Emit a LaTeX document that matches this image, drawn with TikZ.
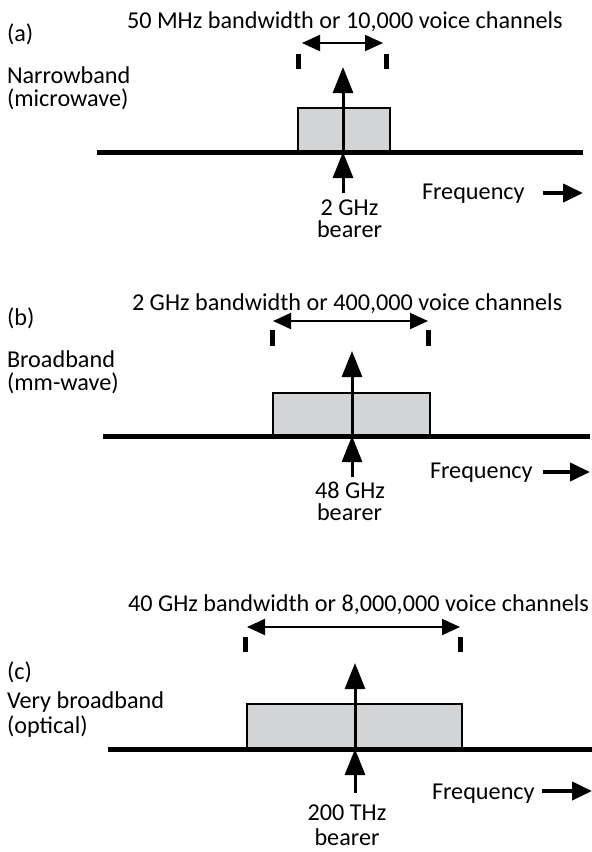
\documentclass[tikz,border=0pt]{standalone}
\usepackage{fontspec}
\setmainfont{Carlito}
\usetikzlibrary{arrows.meta}
\definecolor{bandgray}{RGB}{211,212,214}
\tikzset{
  axisline/.style={line width=5pt},
  bandbox/.style={fill=bandgray, draw=black, line width=2pt},
  bearerarrow/.style={line width=3pt, -{Triangle[length=26pt,width=20pt]}},
  spanarrow/.style={line width=2pt, {Triangle[length=18pt,width=16pt]}-{Triangle[length=18pt,width=16pt]}},
  tickmark/.style={line width=5pt},
  freqarrow/.style={line width=4pt, -{Triangle[length=20pt,width=18pt]}},
  lbl/.style={font=\fontsize{24.2}{29}\selectfont, inner sep=0pt, outer sep=0pt},
}
\begin{document}
\begin{tikzpicture}[x=1pt,y=-1pt]
\useasboundingbox (0,0) rectangle (592,852);

% ---------------- panel (a)
\coordinate (aAL) at (97,152);  \coordinate (aAR) at (583,152);
\coordinate (aB1) at (298,152); \coordinate (aB2) at (390,108);
\coordinate (aC)  at (343,152); \coordinate (aUp) at (343,67);
\coordinate (aLo) at (343,193);
\coordinate (aSL) at (302,43);  \coordinate (aSR) at (383,43);
\coordinate (aT1a) at (298,54); \coordinate (aT1b) at (298,69);
\coordinate (aT2a) at (386,54); \coordinate (aT2b) at (386,69);
\coordinate (aF1) at (543,193); \coordinate (aF2) at (583,193);
\draw[bandbox] (aB1) rectangle (aB2);
\draw[axisline] (aAL) -- (aAR);
\draw[bearerarrow] (aC) -- (aUp);
\draw[bearerarrow] (aLo) -- (aC);
\draw[spanarrow] (aSL) -- (aSR);
\draw[tickmark] (aT1a) -- (aT1b);
\draw[tickmark] (aT2a) -- (aT2b);
\draw[freqarrow] (aF1) -- (aF2);
\node[lbl, anchor=base west] (aTitle) at (127,28) {50 MHz bandwidth or 10,000 voice channels};
\node[lbl, anchor=base west] (aTag) at (7,41) {(a)};
\node[lbl, anchor=base west] (aName1) at (7,83) {Narrowband};
\node[lbl, anchor=base west] (aName2) at (7,106) {(microwave)};
\node[lbl, anchor=base] (aFreq1) at (349.5,215) {2 GHz};
\node[lbl, anchor=base] (aFreq2) at (349.5,237) {bearer};
\node[lbl, anchor=base west] (aAxis) at (422,199) {Frequency};

% ---------------- panel (b)
\coordinate (bAL) at (103,436); \coordinate (bAR) at (590,436);
\coordinate (bB1) at (273,436); \coordinate (bB2) at (430,393);
\coordinate (bC)  at (352,436); \coordinate (bUp) at (352,351);
\coordinate (bLo) at (352,477);
\coordinate (bSL) at (273,321); \coordinate (bSR) at (428,321);
\coordinate (bT1a) at (272,330); \coordinate (bT1b) at (272,346);
\coordinate (bT2a) at (428,330); \coordinate (bT2b) at (428,346);
\coordinate (bF1) at (543,472); \coordinate (bF2) at (590,472);
\draw[bandbox] (bB1) rectangle (bB2);
\draw[axisline] (bAL) -- (bAR);
\draw[bearerarrow] (bC) -- (bUp);
\draw[bearerarrow] (bLo) -- (bC);
\draw[spanarrow] (bSL) -- (bSR);
\draw[tickmark] (bT1a) -- (bT1b);
\draw[tickmark] (bT2a) -- (bT2b);
\draw[freqarrow] (bF1) -- (bF2);
\node[lbl, anchor=base west] (bTitle) at (132,310) {2 GHz bandwidth or 400,000 voice channels};
\node[lbl, anchor=base west] (bTag) at (7,325) {(b)};
\node[lbl, anchor=base west] (bName1) at (7,367) {Broadband};
\node[lbl, anchor=base west] (bName2) at (7,390) {(mm-wave)};
\node[lbl, anchor=base] (bFreq1) at (350,498) {48 GHz};
\node[lbl, anchor=base] (bFreq2) at (349.5,520) {bearer};
\node[lbl, anchor=base west] (bAxis) at (430,478) {Frequency};

% ---------------- panel (c)
\coordinate (cAL) at (108,749); \coordinate (cAR) at (592,749);
\coordinate (cB1) at (247,749); \coordinate (cB2) at (462,704);
\coordinate (cC)  at (355,749); \coordinate (cUp) at (355,663);
\coordinate (cLo) at (355,793);
\coordinate (cSL) at (247,627); \coordinate (cSR) at (460,627);
\coordinate (cT1a) at (245,637); \coordinate (cT1b) at (245,652);
\coordinate (cT2a) at (460,637); \coordinate (cT2b) at (460,652);
\coordinate (cF1) at (542,791); \coordinate (cF2) at (592,791);
\draw[bandbox] (cB1) rectangle (cB2);
\draw[axisline] (cAL) -- (cAR);
\draw[bearerarrow] (cC) -- (cUp);
\draw[bearerarrow] (cLo) -- (cC);
\draw[spanarrow] (cSL) -- (cSR);
\draw[tickmark] (cT1a) -- (cT1b);
\draw[tickmark] (cT2a) -- (cT2b);
\draw[freqarrow] (cF1) -- (cF2);
\node[lbl, anchor=base west] (cTitle) at (128,611) {40 GHz bandwidth or 8,000,000 voice channels};
\node[lbl, anchor=base west] (cTag) at (7,679) {(c)};
\node[lbl, anchor=base west] (cName1) at (7,708) {Very broadband};
\node[lbl, anchor=base west] (cName2) at (7,733) {(optical)};
\node[lbl, anchor=base] (cFreq1) at (347,820) {200 THz};
\node[lbl, anchor=base] (cFreq2) at (347,845) {bearer};
\node[lbl, anchor=base west] (cAxis) at (432,799) {Frequency};
\end{tikzpicture}
\end{document}
